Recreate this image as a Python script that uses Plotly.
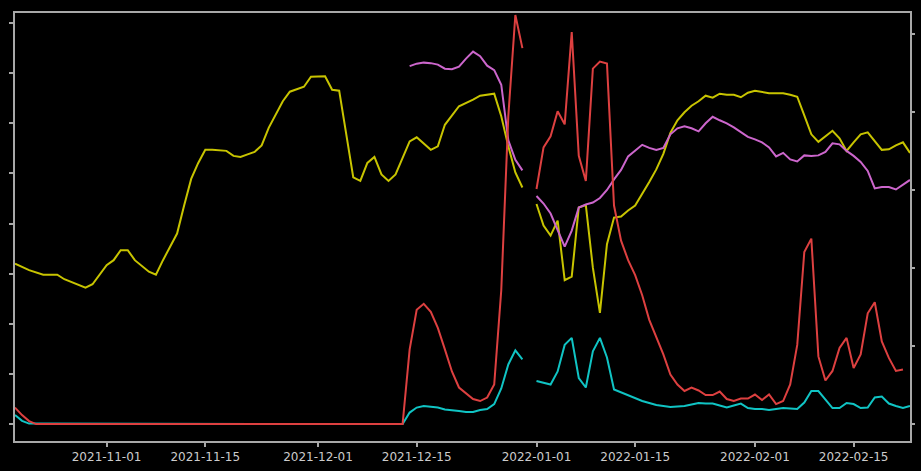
import plotly.graph_objects as go
import datetime as dt

START = dt.date(2021, 10, 19)

def dates(days):
    return [(START + dt.timedelta(days=d)).isoformat() for d in days]

# x tick labels
tick_dates = ["2021-11-01", "2021-11-15", "2021-12-01", "2021-12-15",
              "2022-01-01", "2022-01-15", "2022-02-01", "2022-02-15"]

# yellow series (day offset from 2021-10-19, value)
yellow_days = [0, 2, 4, 6, 7, 10, 11, 13, 14, 15, 16, 17, 19, 20, 21, 23, 24, 25, 26, 27, 28, 30, 31, 32, 33,
               34, 35, 36, 38, 39, 41, 42, 44, 45, 46, 47, 48, 49, 50, 51, 52, 53, 54, 56, 57, 59, 60, 61, 62,
               63, 65, 66, 68, 69, 70, 71, 72, 73, 74, 75, 76, 77, 78, 79, 80, 81, 82, 83, 84, 85, 86, 87, 88,
               89, 90, 91, 92, 93, 94, 95, 96, 97, 98, 99, 100, 101, 102, 103, 104, 105, 106, 107, 108, 109,
               110, 111, 112, 113, 114, 115, 116, 117, 118, 119, 120, 121, 122, 123, 124, 125, 126, 127]
yellow_vals = [32.0, 30.7, 29.8, 29.8, 28.9, 27.2, 27.9, 31.7, 32.7, 34.7, 34.7, 32.7, 30.4, 29.8, 32.7, 38.0,
               43.6, 48.9, 52.1, 54.7, 54.7, 54.5, 53.5, 53.3, 53.8, 54.3, 55.6, 59.1, 64.4, 66.3, 67.3, 69.3,
               69.4, 66.7, 66.5, 58.2, 49.2, 48.5, 52.1, 53.3, 49.8, 48.5, 49.8, 56.4, 57.2, 54.7, 55.4, 59.7,
               61.6, 63.4, 64.7, 65.5, 65.9, 61.4, 55.4, 50.2, 47.2, None, 43.9, 39.6, 37.6, 40.6, 28.7, 29.4,
               43.2, 43.7, 31.2, 22.2, 35.9, 41.2, 41.4, 42.6, 43.6, 46.1, 48.3, 50.8, 53.9, 58.1, 60.6, 62.2,
               63.5, 64.4, 65.5, 65.1, 65.9, 65.7, 65.7, 65.2, 66.1, 66.5, 66.3, 66.0, 66.0, 66.0, 65.7, 65.3,
               61.6, 57.8, 56.3, 57.4, 58.5, 57.0, 54.5, 56.2, 57.8, 58.2, 56.4, 54.7, 54.8, 55.6, 56.2, 54.1]

# magenta series
magenta_days = list(range(56, 128))
magenta_vals = [71.4, 71.9, 72.1, 72.0, 71.7, 70.9, 70.8, 71.3, 72.9, 74.3, 73.4, 71.5, 70.6, 67.7, 56.6, 52.7,
                50.6, None, 45.5, 44.0, 42.0, 38.6, 35.4, 38.6, 43.2, 43.8, 44.2, 45.1, 46.7, 48.8, 50.7, 53.4,
                54.6, 55.7, 55.1, 54.7, 55.1, 57.8, 59.0, 59.4, 59.0, 58.4, 60.0, 61.3, 60.6, 60.0, 59.2, 58.2,
                57.3, 56.8, 56.2, 55.2, 53.4, 54.1, 52.8, 52.4, 53.6, 53.5, 53.6, 54.3, 56.0, 55.8, 54.5, 53.5,
                52.3, 50.5, 47.0, 47.3, 47.3, 46.8, 47.7, 48.7]

# red series
red_days = [0, 1, 2, 3] + list(range(55, 128))
red_vals = [3.3, 1.8, 0.6, 0.0,
            0.0, 14.9, 22.8, 24.0, 22.4, 19.2, 14.9, 10.5, 7.3, 6.1, 5.0, 4.6, 5.3, 7.9, 26.7, 61.4, 81.6,
            75.0, None, 46.9, 55.2, 57.4, 62.4, 59.8, 78.2, 53.5, 48.5, 70.9, 72.3, 71.9, 43.6, 36.6, 32.7,
            29.7, 25.7, 20.8, 17.4, 13.9, 9.9, 7.9, 6.6, 7.3, 6.7, 5.8, 5.8, 6.5, 5.0, 4.6, 5.1, 5.1, 5.9,
            4.8, 5.9, 4.0, 4.6, 7.9, 15.8, 34.3, 37.0, 13.5, 8.7, 10.6, 15.2, 17.2, 11.2, 13.9, 22.1, 24.3,
            16.5, 13.2, 10.6, 10.9]

# cyan series
cyan_days = [0, 1, 2] + list(range(55, 128))
cyan_vals = [1.8, 0.65, 0.1,
             0.0, 2.3, 3.3, 3.6, 3.5, 3.3, 2.9, 2.8, 2.6, 2.4, 2.4, 2.8, 3.0, 4.0, 7.1, 11.9, 14.7, 12.9,
             None, 8.6, 8.2, 7.9, 10.5, 15.8, 17.2, 9.2, 7.3, 14.5, 17.2, 13.3, 6.9, 6.3, 5.8, 5.2, 4.6, 4.2,
             3.8, 3.6, 3.4, 3.5, 3.6, 3.9, 4.2, 4.1, 4.1, 3.7, 3.3, 3.7, 4.1, 3.2, 3.0, 3.0, 2.8, 3.0, 3.2,
             3.1, 3.0, 4.3, 6.6, 6.6, 5.0, 3.2, 3.2, 4.2, 4.0, 3.2, 3.3, 5.3, 5.5, 4.1, 3.6, 3.2, 3.6]

YELLOW = "#c8c400"
MAGENTA = "#cc66cc"
RED = "#dd4040"
CYAN = "#10c4c4"
FRAME = "#a8a8a8"

fig = go.Figure()
fig.add_trace(go.Scatter(x=dates(cyan_days), y=cyan_vals, mode="lines",
                         line=dict(color=CYAN, width=2), showlegend=False))
fig.add_trace(go.Scatter(x=dates(yellow_days), y=yellow_vals, mode="lines",
                         line=dict(color=YELLOW, width=2), showlegend=False))
fig.add_trace(go.Scatter(x=dates(magenta_days), y=magenta_vals, mode="lines",
                         line=dict(color=MAGENTA, width=2), showlegend=False))
fig.add_trace(go.Scatter(x=dates(red_days), y=red_vals, mode="lines",
                         line=dict(color=RED, width=2), showlegend=False))
# dummy trace so the right-hand axis is drawn
fig.add_trace(go.Scatter(x=[None], y=[None], yaxis="y2", mode="lines",
                         showlegend=False, hoverinfo="skip"))

y_lo, y_hi = -3.37, 82.0
k = 0.6418

fig.update_layout(
    width=921, height=471,
    margin=dict(l=15, r=7, t=13, b=26),
    paper_bgcolor="black", plot_bgcolor="black",
    xaxis=dict(range=["2021-10-19", "2022-02-23"], tickvals=tick_dates, ticktext=tick_dates,
               showgrid=False, zeroline=False, showline=True, mirror=True,
               linecolor=FRAME, linewidth=1.5, ticks="outside", ticklen=4, tickwidth=1.5,
               tickcolor=FRAME,
               tickfont=dict(family="DejaVu Sans", size=12, color="#cccccc")),
    yaxis=dict(range=[y_lo, y_hi], tickvals=[0, 10, 20, 30, 40, 50, 60, 70, 80],
               showticklabels=False, showgrid=False, zeroline=False, showline=True, mirror=True,
               linecolor=FRAME, linewidth=1.5, ticks="outside", ticklen=4, tickwidth=1.5,
               tickcolor=FRAME),
    yaxis2=dict(overlaying="y", side="right", range=[y_lo * k, y_hi * k],
                tickvals=[0, 10, 20, 30, 40, 50], showticklabels=False, showgrid=False,
                zeroline=False, showline=False, ticks="outside", ticklen=4, tickwidth=1.5,
                tickcolor=FRAME),
)

fig.write_html("out.html", config={"displayModeBar": False},
               post_script="document.body.style.margin='0';document.body.style.background='black';")
